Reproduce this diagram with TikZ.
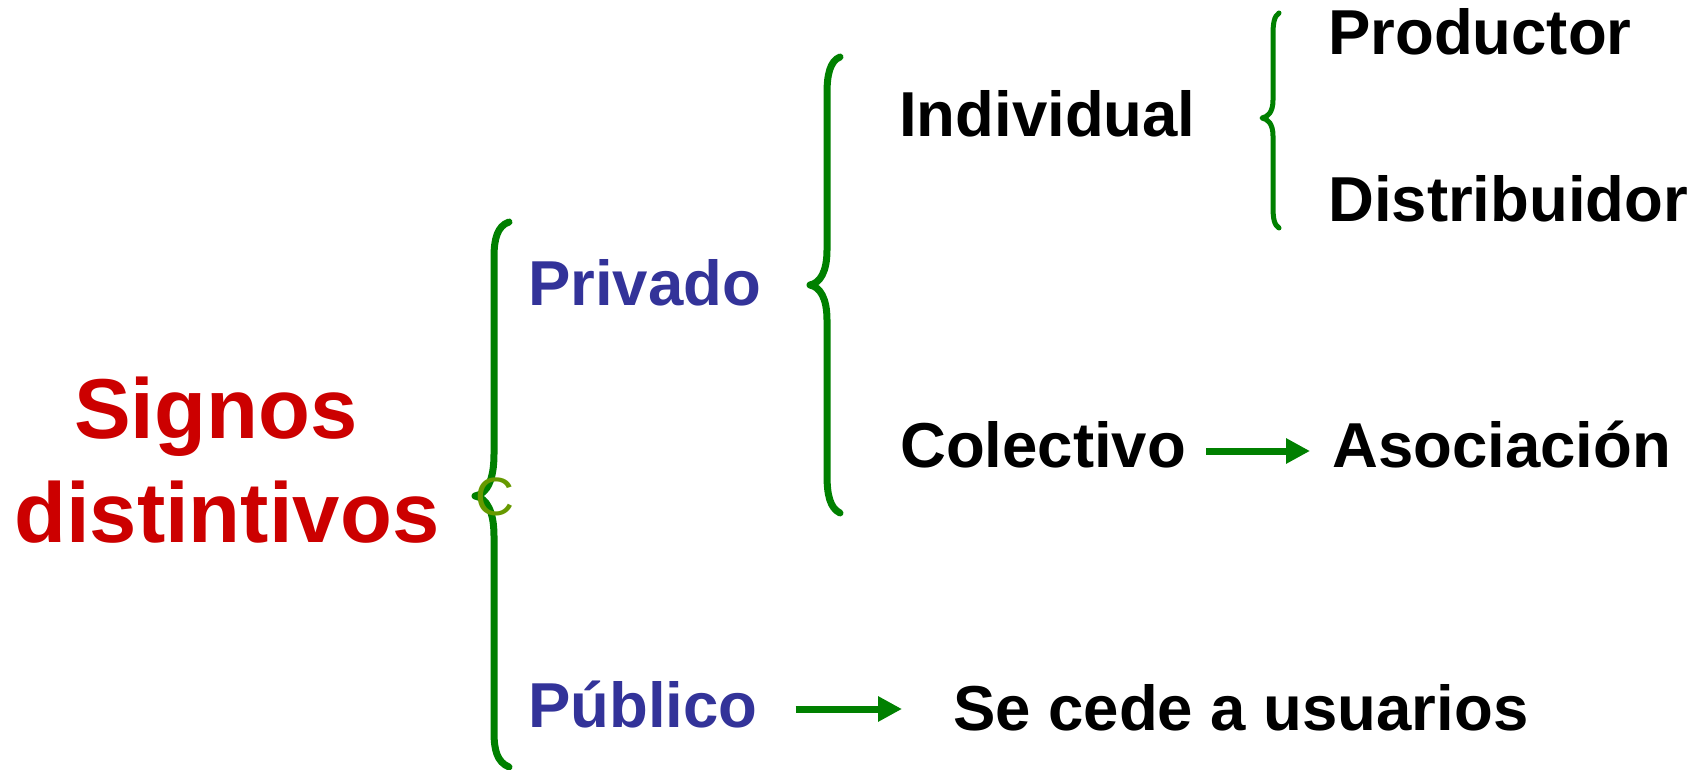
\documentclass[tikz,border=0pt]{standalone}
\usepackage{fontspec}
\setmainfont{Liberation Sans}
\usetikzlibrary{arrows.meta}
\definecolor{sred}{HTML}{CC0000}
\definecolor{sblue}{HTML}{333399}
\definecolor{sgreen}{HTML}{008000}
\definecolor{solive}{HTML}{669900}
\tikzset{
  txt/.style={anchor=base west, inner sep=0pt, font=\fontsize{63.5}{70}\selectfont\bfseries},
  title/.style={anchor=base west, inner sep=0pt, text=sred, font=\fontsize{85}{100}\selectfont\bfseries},
  cat/.style={txt, text=sblue},
  bracebig/.style={draw=sgreen, line width=7pt, line cap=round, line join=round},
  bracesmall/.style={draw=sgreen, line width=5pt, line cap=round, line join=round},
  arr/.style={draw=sgreen, line width=7pt, -{Triangle[length=24pt,width=24pt]}}
}
\begin{document}
\begin{tikzpicture}[x=1pt,y=-1pt]
\useasboundingbox (0,0) rectangle (1695,770);
% texts
\node[title] (signos) at (74,438) {Signos};
\node[title] (distintivos) at (14,542) {distintivos};
\node[cat] (privado) at (528,305) {Privado};
\node[cat] (publico) at (528,727) {Público};
\node[txt] (individual) at (899,137) {Individual};
\node[txt] (colectivo) at (900,467) {Colectivo};
\node[txt] (asociacion) at (1332,467) {Asociación};
\node[txt] (productor) at (1328,55) {Productor};
\node[txt] (distribuidor) at (1328,222) {Distribuidor};
\node[txt] (cede) at (953,730) {Se cede a usuarios};
% braces
\draw[bracebig] (509,222) .. controls (497,226) and (494,240) .. (494,257) -- (494,454)
  .. controls (494,480) and (487,494) .. (475,496)
  .. controls (487,498) and (494,512) .. (494,536) -- (494,732)
  .. controls (494,750) and (497,762) .. (509,767);
\draw[bracebig] (840,57) .. controls (830,61) and (827,75) .. (827,93) -- (827,250)
  .. controls (827,272) and (820,283) .. (810,285)
  .. controls (820,287) and (827,298) .. (827,320) -- (827,475)
  .. controls (827,495) and (830,508) .. (840,513);
\draw[bracesmall] (1279,13) .. controls (1274,16) and (1273,24) .. (1273,35) -- (1273,100)
  .. controls (1273,112) and (1268,117) .. (1262,118)
  .. controls (1268,119) and (1273,124) .. (1273,136) -- (1273,206)
  .. controls (1273,218) and (1274,225) .. (1279,228);
\node[inner sep=0pt, text=solive, font=\fontsize{54}{56}\selectfont\rmfamily] (cmark) at (495,497) {C};
% arrows
\draw[arr] ([xshift=20pt,yshift=16pt]colectivo.base east) -- ([xshift=-22pt,yshift=16pt]asociacion.base west);
\draw[arr] ([xshift=38pt,yshift=18pt]publico.base east) -- ([xshift=-51pt,yshift=21pt]cede.base west);
\end{tikzpicture}
\end{document}
